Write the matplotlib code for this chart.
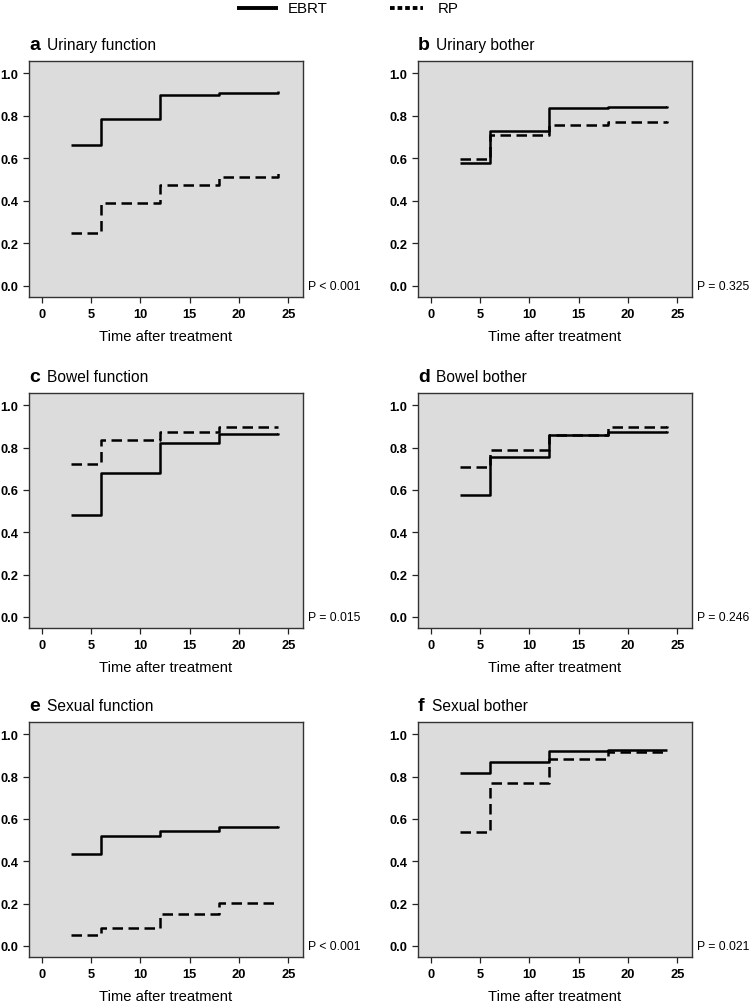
import matplotlib
matplotlib.use('Agg')
import matplotlib.pyplot as plt
from matplotlib.lines import Line2D
from matplotlib.transforms import blended_transform_factory

plt.rcParams['font.family'] = ['Liberation Sans', 'DejaVu Sans']

# ---------------- data ----------------
times = [3, 6, 12, 18, 24]
x_ticks = [0, 5, 10, 15, 20, 25]
y_ticks = [0.0, 0.2, 0.4, 0.6, 0.8, 1.0]
y_tick_labels = ['0.0', '0.2', '0.4', '0.6', '0.8', '1.0']
panel_letters = ['a', 'b', 'c', 'd', 'e', 'f']
panel_titles = ['Urinary function', 'Urinary bother', 'Bowel function',
                'Bowel bother', 'Sexual function', 'Sexual bother']
p_values = ['P < 0.001', 'P = 0.325', 'P = 0.015',
            'P = 0.246', 'P < 0.001', 'P = 0.021']
x_label = 'Time after treatment'
legend_labels = ['EBRT', 'RP']

ebrt_urinary_function = [0.662, 0.783, 0.900, 0.908, 0.918]
rp_urinary_function = [0.250, 0.390, 0.476, 0.514, 0.533]
ebrt_urinary_bother = [0.577, 0.731, 0.839, 0.842, 0.847]
rp_urinary_bother = [0.598, 0.711, 0.755, 0.771, 0.777]
ebrt_bowel_function = [0.484, 0.678, 0.823, 0.865, 0.867]
rp_bowel_function = [0.723, 0.837, 0.873, 0.897, 0.898]
ebrt_bowel_bother = [0.577, 0.756, 0.858, 0.876, 0.880]
rp_bowel_bother = [0.708, 0.791, 0.858, 0.899, 0.901]
ebrt_sexual_function = [0.433, 0.521, 0.542, 0.563, 0.567]
rp_sexual_function = [0.053, 0.085, 0.149, 0.202, 0.204]
ebrt_sexual_bother = [0.816, 0.867, 0.920, 0.926, 0.928]
rp_sexual_bother = [0.540, 0.769, 0.882, 0.918, 0.922]

ebrt_series = [ebrt_urinary_function, ebrt_urinary_bother, ebrt_bowel_function,
               ebrt_bowel_bother, ebrt_sexual_function, ebrt_sexual_bother]
rp_series = [rp_urinary_function, rp_urinary_bother, rp_bowel_function,
             rp_bowel_bother, rp_sexual_function, rp_sexual_bother]

# ---------------- layout ----------------
W, H = 750, 1003
fig = plt.figure(figsize=(W / 100, H / 100), dpi=100)

col_left = [29, 418]
ax_w = 274
row_top = [62, 394, 723]
ax_h = [236, 235, 235]

bg = '#dcdcdc'
dash_rp = (4.2, 2.2)

for i in range(6):
    r, c = divmod(i, 2)
    left = col_left[c] / W
    bottom = 1 - (row_top[r] + ax_h[r]) / H
    ax = fig.add_axes([left, bottom, ax_w / W, ax_h[r] / H])
    ax.set_facecolor(bg)
    ax.step(times, ebrt_series[i], where='post', color='black', lw=1.8,
            solid_capstyle='butt')
    ax.step(times, rp_series[i], where='post', color='black', lw=1.8,
            linestyle=(0, dash_rp), dash_capstyle='butt')
    ax.set_xlim(-1.3, 26.5)
    ax.set_ylim(-0.052, 1.058)
    ax.set_xticks(x_ticks)
    ax.set_yticks(y_ticks)
    ax.set_yticklabels(y_tick_labels)
    ax.tick_params(axis='both', direction='out', length=4.3, width=0.9,
                   labelsize=9.3, pad=3.4, color='#222222')
    for lab in ax.get_xticklabels() + ax.get_yticklabels():
        lab.set_fontweight('bold')
    for sp in ax.spines.values():
        sp.set_color('#333333')
        sp.set_linewidth(1.0)
    ax.set_xlabel(x_label, fontsize=10.6, va='top')
    ax.xaxis.set_label_coords(0.5, -32 / ax_h[r])
    # title
    ax.text(0.0, 1 + 16 / ax_h[r], panel_letters[i], transform=ax.transAxes,
            fontsize=14, fontweight='bold', va='center', ha='left')
    ax.text((18 if panel_letters[i] != 'f' else 14) / ax_w,
            1 + 16 / ax_h[r], panel_titles[i],
            transform=ax.transAxes, fontsize=11.2, va='center', ha='left')
    # p-value
    trans = blended_transform_factory(ax.transAxes, ax.transData)
    ax.text(1 + 5 / ax_w, 0.0, p_values[i], transform=trans, fontsize=8.8,
            va='center', ha='left')

# ---------------- legend ----------------
y_leg = 1 - 9 / H
fig.add_artist(Line2D([237 / W, 278 / W], [y_leg, y_leg], color='black',
                      lw=2.8, solid_capstyle='butt'))
fig.add_artist(Line2D([390 / W, 423 / W], [y_leg, y_leg], color='black',
                      lw=2.8, linestyle=(0, (1.2, 0.75)), dash_capstyle='butt'))
fig.text(288 / W, y_leg, legend_labels[0], fontsize=10.8, va='center', ha='left')
fig.text(438 / W, y_leg, legend_labels[1], fontsize=10.8, va='center', ha='left')

fig.savefig('out.png', dpi=100, facecolor='white')
